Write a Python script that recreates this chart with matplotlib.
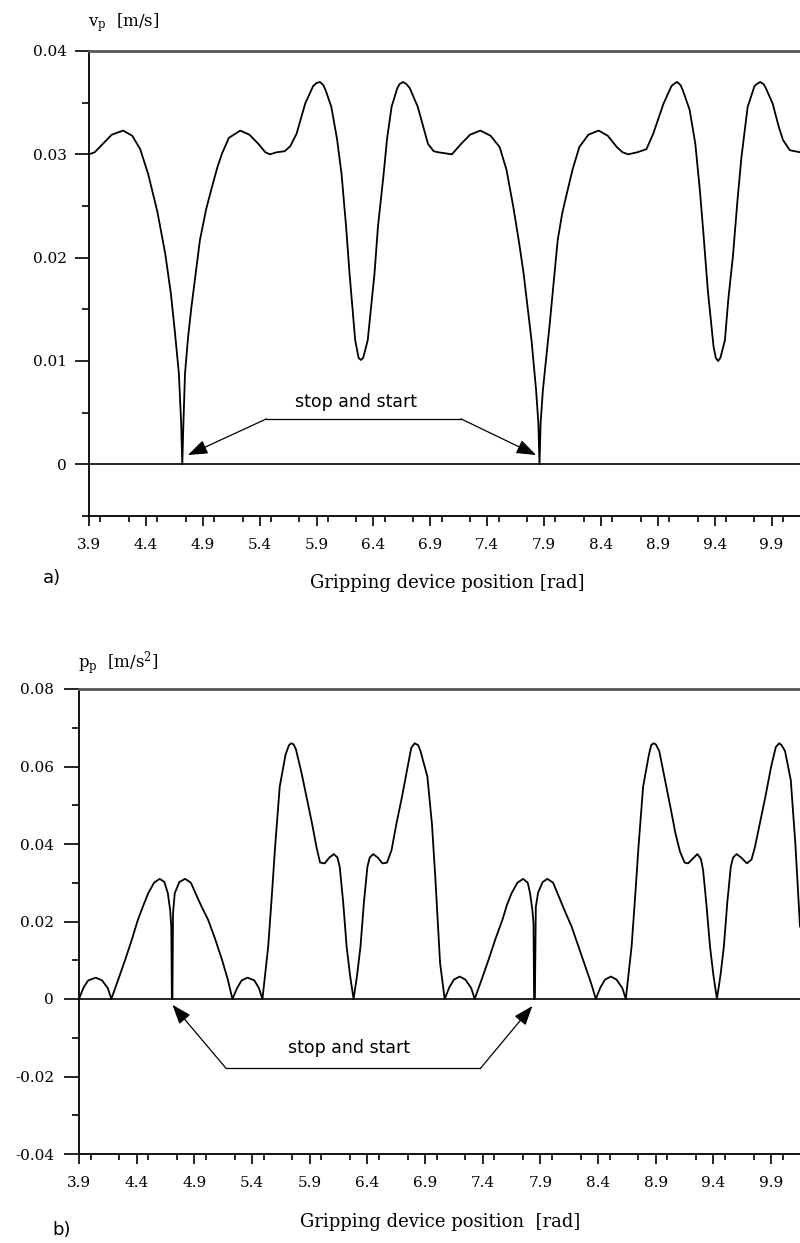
import matplotlib
matplotlib.use('Agg')
import matplotlib.pyplot as plt
from matplotlib.ticker import MultipleLocator, FixedLocator

plt.rcParams['mathtext.fontset'] = 'dejavuserif'

# gripping device position [rad] and velocity v_p [m/s]
vp_x = [3.90, 3.95, 4.02, 4.10, 4.20, 4.28, 4.35, 4.42, 4.50, 4.57, 4.62, 4.656, 4.69, 4.71, 4.72, 4.73,
        4.744, 4.77, 4.80, 4.84, 4.875, 4.93, 4.98, 5.03, 5.07, 5.13, 5.23, 5.31, 5.39, 5.45, 5.49, 5.55,
        5.62, 5.67, 5.725, 5.80, 5.87, 5.90, 5.93, 5.96, 5.98, 6.03, 6.08, 6.12, 6.16, 6.19, 6.24, 6.27,
        6.29, 6.31, 6.35, 6.41, 6.44, 6.49, 6.52, 6.56, 6.61, 6.63, 6.66, 6.69, 6.72, 6.79, 6.84, 6.88,
        6.93, 6.97, 7.03, 7.09, 7.17, 7.25, 7.34, 7.43, 7.51, 7.57, 7.63, 7.68, 7.72, 7.79, 7.83, 7.85,
        7.86, 7.87, 7.89, 7.95, 8.02, 8.06, 8.10, 8.15, 8.21, 8.29, 8.38, 8.46, 8.54, 8.59, 8.64, 8.72,
        8.80, 8.86, 8.95, 9.02, 9.04, 9.07, 9.10, 9.12, 9.18, 9.23, 9.27, 9.30, 9.34, 9.39, 9.41, 9.43,
        9.45, 9.49, 9.52, 9.56, 9.60, 9.635, 9.69, 9.75, 9.77, 9.80, 9.83, 9.85, 9.91, 9.96, 10.00, 10.06,
        10.15]
vp_y = [0.0300, 0.0302, 0.0310, 0.0319, 0.0323, 0.0318, 0.0305, 0.0281, 0.0245, 0.0204, 0.0165, 0.0127,
        0.0088, 0.0040, 0.0000, 0.0040, 0.0088, 0.0122, 0.0152, 0.0187, 0.0217, 0.0247, 0.0268, 0.0288,
        0.0301, 0.0316, 0.0323, 0.0319, 0.0310, 0.0302, 0.0300, 0.0302, 0.0303, 0.0308, 0.0320, 0.0349,
        0.0366, 0.0369, 0.0370, 0.0367, 0.0362, 0.0346, 0.0315, 0.0281, 0.0230, 0.0185, 0.0120, 0.0103,
        0.0101, 0.0103, 0.0120, 0.0185, 0.0230, 0.0281, 0.0315, 0.0346, 0.0364, 0.0368, 0.0370, 0.0368,
        0.0364, 0.0346, 0.0326, 0.0310, 0.0303, 0.0302, 0.0301, 0.0300, 0.0310, 0.0319, 0.0323, 0.0318,
        0.0307, 0.0285, 0.0249, 0.0215, 0.0185, 0.0120, 0.0072, 0.0040, 0.0000, 0.0040, 0.0072, 0.0136,
        0.0217, 0.0243, 0.0262, 0.0285, 0.0307, 0.0319, 0.0323, 0.0318, 0.0307, 0.0302, 0.0300, 0.0302,
        0.0305, 0.0320, 0.0349, 0.0366, 0.0368, 0.0370, 0.0367, 0.0362, 0.0343, 0.0310, 0.0265, 0.0225,
        0.0168, 0.0114, 0.0103, 0.0100, 0.0103, 0.0120, 0.0160, 0.0201, 0.0255, 0.0297, 0.0346, 0.0366,
        0.0368, 0.0370, 0.0368, 0.0364, 0.0349, 0.0328, 0.0314, 0.0304, 0.0302]

# acceleration p_p [m/s^2]
pp_x = [3.90, 3.94, 3.98, 4.045, 4.10, 4.15, 4.18, 4.24, 4.30, 4.36, 4.41, 4.46, 4.50, 4.55, 4.60, 4.64,
        4.67, 4.69, 4.70, 4.705, 4.71, 4.715, 4.73, 4.77, 4.82, 4.87, 4.91, 4.96, 5.02, 5.08, 5.14, 5.19,
        5.23, 5.27, 5.31, 5.36, 5.42, 5.46, 5.49, 5.54, 5.57, 5.60, 5.64, 5.69, 5.72, 5.74, 5.76, 5.78,
        5.83, 5.88, 5.92, 5.96, 5.99, 6.03, 6.07, 6.11, 6.14, 6.16, 6.19, 6.22, 6.25, 6.28, 6.31, 6.34,
        6.37, 6.40, 6.42, 6.45, 6.49, 6.53, 6.57, 6.61, 6.65, 6.70, 6.75, 6.78, 6.81, 6.84, 6.86, 6.92,
        6.96, 6.99, 7.03, 7.07, 7.11, 7.15, 7.20, 7.25, 7.30, 7.33, 7.39, 7.45, 7.51, 7.57, 7.61, 7.65,
        7.70, 7.75, 7.79, 7.81, 7.83, 7.84, 7.845, 7.852, 7.86, 7.88, 7.92, 7.96, 8.01, 8.06, 8.11, 8.17,
        8.23, 8.29, 8.34, 8.38, 8.42, 8.46, 8.51, 8.56, 8.61, 8.64, 8.69, 8.72, 8.75, 8.79, 8.84, 8.86,
        8.88, 8.90, 8.93, 8.98, 9.03, 9.07, 9.11, 9.15, 9.18, 9.22, 9.26, 9.29, 9.31, 9.34, 9.37, 9.40,
        9.43, 9.46, 9.49, 9.52, 9.55, 9.57, 9.60, 9.64, 9.69, 9.73, 9.76, 9.80, 9.85, 9.90, 9.94, 9.97,
        9.99, 10.02, 10.07, 10.11, 10.15]
pp_y = [0.0000, 0.0030, 0.0048, 0.0055, 0.0048, 0.0028, 0.0000, 0.0050, 0.0101, 0.0155, 0.0204, 0.0243,
        0.0273, 0.0300, 0.0310, 0.0302, 0.0273, 0.0230, 0.0187, 0.0000, 0.0000, 0.0220, 0.0273, 0.0302,
        0.0310, 0.0300, 0.0273, 0.0240, 0.0204, 0.0155, 0.0101, 0.0050, 0.0000, 0.0028, 0.0048, 0.0055,
        0.0048, 0.0028, 0.0000, 0.0135, 0.0260, 0.0393, 0.0548, 0.0630, 0.0655, 0.0660, 0.0657, 0.0645,
        0.0582, 0.0510, 0.0453, 0.0390, 0.0352, 0.0350, 0.0365, 0.0374, 0.0365, 0.0341, 0.0250, 0.0135,
        0.0060, 0.0000, 0.0060, 0.0135, 0.0250, 0.0341, 0.0365, 0.0374, 0.0365, 0.0350, 0.0352, 0.0385,
        0.0450, 0.0522, 0.0600, 0.0648, 0.0660, 0.0655, 0.0640, 0.0574, 0.0450, 0.0307, 0.0093, 0.0000,
        0.0030, 0.0050, 0.0058, 0.0050, 0.0028, 0.0000, 0.0050, 0.0101, 0.0155, 0.0204, 0.0243, 0.0273,
        0.0300, 0.0310, 0.0300, 0.0273, 0.0230, 0.0195, 0.0000, 0.0000, 0.0238, 0.0275, 0.0302, 0.0310,
        0.0300, 0.0264, 0.0228, 0.0187, 0.0135, 0.0083, 0.0040, 0.0000, 0.0030, 0.0050, 0.0058, 0.0050,
        0.0028, 0.0000, 0.0135, 0.0260, 0.0393, 0.0548, 0.0630, 0.0655, 0.0660, 0.0657, 0.0640, 0.0565,
        0.0490, 0.0428, 0.0380, 0.0352, 0.0350, 0.0362, 0.0374, 0.0362, 0.0333, 0.0240, 0.0135, 0.0060,
        0.0000, 0.0060, 0.0135, 0.0250, 0.0341, 0.0365, 0.0374, 0.0365, 0.0350, 0.0360, 0.0393, 0.0450,
        0.0522, 0.0600, 0.0650, 0.0660, 0.0655, 0.0640, 0.0565, 0.0400, 0.0187]

x_ticks = [3.9, 4.4, 4.9, 5.4, 5.9, 6.4, 6.9, 7.4, 7.9, 8.4, 8.9, 9.4, 9.9]
v_ticks = [0, 0.01, 0.02, 0.03, 0.04]
v_labels = ['0', '0.01', '0.02', '0.03', '0.04']
p_ticks = [-0.04, -0.02, 0, 0.02, 0.04, 0.06, 0.08]
p_labels = ['-0.04', '-0.02', '0', '0.02', '0.04', '0.06', '0.08']

# "stop and start" callouts: text, elbow of the leader, arrow tips
v_note = dict(text=(6.25, 0.0052), line=(5.46, 7.17, 0.0044), tips=[(4.77, 0.0009), (7.83, 0.0009)])
p_note = dict(text=(6.24, -0.0150), line=(5.175, 7.38, -0.0179), tips=[(4.71, -0.0015), (7.83, -0.0018)])

serif = 'DejaVu Serif'
W, H = 800, 1243
fig = plt.figure(figsize=(W / 100, H / 100), dpi=100)

ax1 = fig.add_axes([89 / W, 1 - 516 / H, 1 - 89 / W, 465 / H])
ax2 = fig.add_axes([79 / W, 1 - 1154 / H, 1 - 79 / W, 465 / H])


def style_axes(ax, ylo, yhi, yticks, ylabels, yminor, ymaj_len, ypad):
    ax.set_xlim(3.9, 10.15)
    ax.set_ylim(ylo, yhi)
    ax.spines['right'].set_visible(False)
    ax.spines['top'].set_color('#555555')
    ax.spines['top'].set_linewidth(2.0)
    ax.spines['left'].set_linewidth(1.3)
    ax.spines['bottom'].set_linewidth(1.3)
    ax.xaxis.set_major_locator(FixedLocator(x_ticks))
    ax.xaxis.set_minor_locator(MultipleLocator(0.25))
    ax.set_xticklabels([f'{t:.1f}' for t in x_ticks], family=serif, fontsize=11)
    ax.yaxis.set_major_locator(FixedLocator(yticks))
    ax.yaxis.set_minor_locator(MultipleLocator(yminor))
    ax.set_yticklabels(ylabels, family=serif, fontsize=11)
    ax.tick_params(axis='x', which='major', direction='out', length=7, width=1.2, pad=9)
    ax.tick_params(axis='x', which='minor', direction='out', length=4.5, width=1.2)
    ax.tick_params(axis='y', which='major', direction='out', length=ymaj_len, width=1.2, pad=ypad)
    ax.tick_params(axis='y', which='minor', direction='out', length=5, width=1.2)
    ax.axhline(0, color='black', lw=1.2, zorder=1)


def stop_start(ax, note):
    x0, x1, yl = note['line']
    ax.plot([x0, x1], [yl, yl], color='black', lw=0.9)
    ax.text(note['text'][0], note['text'][1], 'stop and start', ha='center', va='bottom',
            fontsize=12.5, family='DejaVu Sans')
    for tip, start in zip(note['tips'], [(x0, yl), (x1, yl)]):
        ax.annotate('', xy=tip, xytext=start,
                    arrowprops=dict(arrowstyle='-|>,head_length=0.6,head_width=0.22', color='black',
                                    lw=0.9, mutation_scale=20, shrinkA=0, shrinkB=0))


# a) velocity
style_axes(ax1, -0.005, 0.04, v_ticks, v_labels, 0.005, 10, 6)
ax1.plot(vp_x, vp_y, color='black', lw=1.3)
stop_start(ax1, v_note)

# b) acceleration
style_axes(ax2, -0.04, 0.08, p_ticks, p_labels, 0.01, 11, 7)
ax2.plot(pp_x, pp_y, color='black', lw=1.3)
stop_start(ax2, p_note)

# labels
fig.text(88 / W, 1 - 23 / H, r'$\mathrm{v}_\mathrm{p}$  [m/s]', fontsize=12, family=serif, va='center')
fig.text(78 / W, 1 - 663 / H, r'$\mathrm{p}_\mathrm{p}$  [m/s$^2$]', fontsize=12, family=serif, va='center')
fig.text(447 / W, 1 - 583 / H, 'Gripping device position [rad]', fontsize=13, family=serif,
         ha='center', va='center')
fig.text(440 / W, 1 - 1222 / H, 'Gripping device position  [rad]', fontsize=13, family=serif,
         ha='center', va='center')
fig.text(52 / W, 1 - 578 / H, 'a)', fontsize=13, family='DejaVu Sans', ha='center', va='center')
fig.text(62 / W, 1 - 1230 / H, 'b)', fontsize=13, family='DejaVu Sans', ha='center', va='center')

fig.savefig('out.png', dpi=100)
